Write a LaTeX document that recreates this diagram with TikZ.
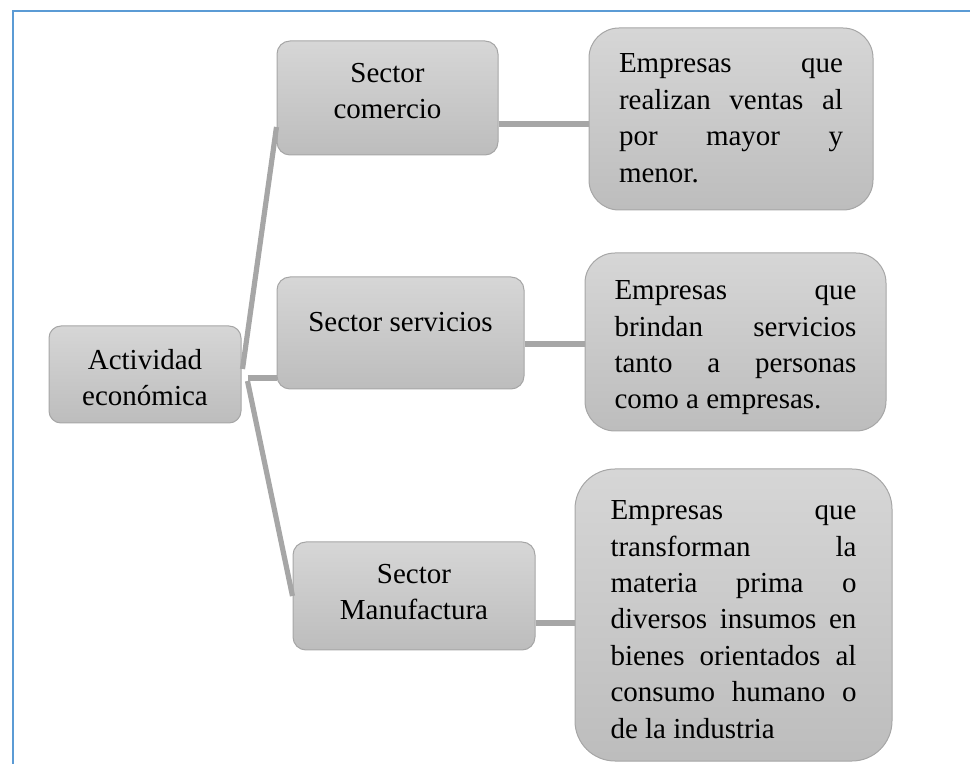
\documentclass[tikz,border=0pt]{standalone}
\usepackage{fontspec}
\setmainfont{Liberation Serif}
\usetikzlibrary{calc}
\definecolor{marcoazul}{HTML}{5B9BD5}
\newcommand{\cajatexto}[4]{\parbox[c][#1][t]{#2}{\tolerance=10000\hbadness=10000\vspace*{#3}#4}}
\begin{document}
\begin{tikzpicture}[x=0.5pt,y=-0.5pt,
   caja/.style={draw=black!35,line width=0.5pt,top color=black!16,bottom color=black!26,inner ysep=0pt,font=\fontsize{14.5pt}{18.2pt}\selectfont},
   enlace/.style={draw=black!35,line width=2.6pt},
   marco/.style={draw=marcoazul,line width=1.2pt}]
   \useasboundingbox (0,0) rectangle (970,764);
   \draw[marco] (13,764) -- (13,11) -- (970,11);
   \node[caja,rounded corners=6pt,inner xsep=4pt] (actividad) at (145,374.5)
    {\cajatexto{48.5pt}{88pt}{11.6pt}{\centering Actividad\\económica}};
   \node[caja,rounded corners=6.5pt,inner xsep=4pt] (comercio) at (387.5,98)
    {\cajatexto{57pt}{102.5pt}{11.2pt}{\centering Sector\\comercio}};
   \node[caja,rounded corners=6.5pt,inner xsep=4pt] (servicios) at (400.5,333)
    {\cajatexto{56pt}{115.5pt}{17.7pt}{\centering Sector servicios}};
   \node[caja,rounded corners=6.5pt,inner xsep=4pt] (manufactura) at (414,596)
    {\cajatexto{54pt}{113pt}{11.2pt}{\centering Sector\\Manufactura}};
   \node[caja,rounded corners=15pt,inner xsep=15pt] (empComercio) at (731,119)
    {\cajatexto{91pt}{112pt}{13pt}{Empresas que\linebreak realizan ventas al\linebreak por mayor y\linebreak menor.}};
   \node[caja,rounded corners=15pt,inner xsep=14.75pt] (empServicios) at (735.5,342)
    {\cajatexto{89pt}{121pt}{13.9pt}{Empresas que\linebreak brindan servicios\linebreak tanto a personas\linebreak como a empresas.}};
   \node[caja,rounded corners=20pt,inner xsep=17.75pt] (empManufactura) at (733.5,615)
    {\cajatexto{146pt}{123pt}{15.9pt}{Empresas que\linebreak transforman la\linebreak materia prima o\linebreak diversos insumos en\linebreak bienes orientados al\linebreak consumo humano o\linebreak de la industria}};
   \coordinate (r1) at ([shift={(0.5pt,2.75pt)}]actividad.east);
   \coordinate (r2) at ([shift={(3pt,-1.75pt)}]actividad.east);
   \coordinate (r3) at ([shift={(3pt,-3.25pt)}]actividad.east);
   \draw[enlace] (r1) -- ([yshift=-14.5pt]comercio.west);
   \draw[enlace] (r2) -- (r2 -| servicios.west);
   \draw[enlace] (r3) -- (manufactura.west);
   \coordinate (d1) at ([yshift=-2.5pt]empComercio.west);
   \coordinate (d2) at ([yshift=-1pt]empServicios.west);
   \coordinate (d3) at ([yshift=-4pt]empManufactura.west);
   \draw[enlace] (comercio.east |- d1) -- (d1);
   \draw[enlace] (servicios.east |- d2) -- (d2);
   \draw[enlace] (manufactura.east |- d3) -- (d3);
\end{tikzpicture}
\end{document}
